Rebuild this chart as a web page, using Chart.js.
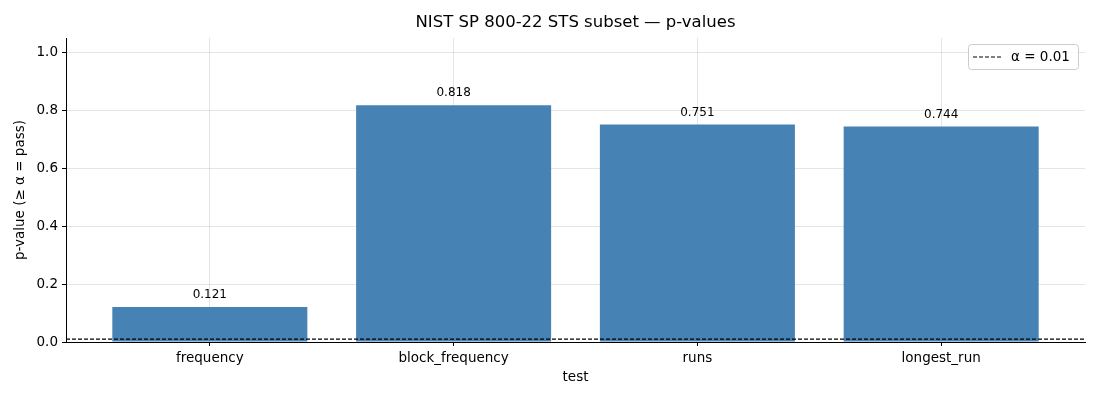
<!DOCTYPE html>
<html>
<head>
<meta charset="utf-8">
<script src="https://cdn.jsdelivr.net/npm/chart.js@4.4.1/dist/chart.umd.min.js"></script>
<style>
  html, body { margin: 0; padding: 0; background: #fff; }
  #wrap { width: 1100px; height: 400px; }
</style>
</head>
<body>
<div id="wrap"><canvas id="stsChart" width="1100" height="400"></canvas></div>
<script>
var tests = ['frequency', 'block_frequency', 'runs', 'longest_run'];
var pValues = [0.121, 0.818, 0.751, 0.744];
var alpha = 0.01;
var yTicks = [0, 0.2, 0.4, 0.6, 0.8, 1.0];
var xMin = -0.59, xMax = 3.59, yMax = 1.05;

var FONT = 'DejaVu Sans';
var ctx = document.getElementById('stsChart').getContext('2d');

var barData = pValues.map(function (v, i) { return { x: i, y: v }; });

// bits matplotlib draws that chart.js doesn't: title, value labels, boxed legend
var extras = {
    id: 'extras',
    afterDatasetsDraw: function (chart) {
        var c = chart.ctx, xs = chart.scales.x, ys = chart.scales.y;
        c.save();
        c.fillStyle = '#000';
        c.textAlign = 'center';
        c.textBaseline = 'bottom';
        c.font = '12px ' + FONT;
        pValues.forEach(function (v, i) {
            c.fillText(v.toFixed(3), xs.getPixelForValue(i), ys.getPixelForValue(v) - 6);
        });
        c.restore();
    },
    afterDraw: function (chart) {
        var c = chart.ctx, area = chart.chartArea;
        c.save();
        c.fillStyle = '#000';
        c.textAlign = 'center';
        c.textBaseline = 'middle';
        c.font = '16.5px ' + FONT;
        c.fillText('NIST SP 800-22 STS subset \u2014 p-values', (area.left + area.right) / 2, 23);

        // legend box
        var bx = 968, by = 44, bw = 110, bh = 25;
        c.fillStyle = 'rgba(255,255,255,0.85)';
        c.strokeStyle = '#cccccc';
        c.lineWidth = 1;
        c.beginPath();
        c.roundRect(bx + 0.5, by + 0.5, bw, bh, 3);
        c.fill();
        c.stroke();
        c.strokeStyle = '#000';
        c.setLineDash([4, 2]);
        c.beginPath();
        c.moveTo(bx + 5, by + 13);
        c.lineTo(bx + 33, by + 13);
        c.stroke();
        c.setLineDash([]);
        c.fillStyle = '#000';
        c.textAlign = 'left';
        c.font = '13.5px ' + FONT;
        c.fillText('\u03b1 = 0.01', bx + 43, by + 13);
        c.restore();
    }
};

new Chart(ctx, {
    type: 'bar',
    data: {
        datasets: [{
            type: 'line',
            label: '\u03b1 = 0.01',
            data: [{ x: xMin, y: alpha }, { x: xMax, y: alpha }],
            borderColor: '#000',
            borderWidth: 1.2,
            borderDash: [4, 2],
            pointRadius: 0,
            fill: false,
            order: 0
        }, {
            label: 'p-value',
            data: barData,
            backgroundColor: '#4682b4',
            borderWidth: 0,
            barPercentage: 0.8,
            categoryPercentage: 1.0,
            order: 1
        }]
    },
    options: {
        responsive: false,
        animation: false,
        devicePixelRatio: 1,
        layout: { padding: { top: 38, right: 15, left: 0, bottom: 0 } },
        plugins: {
            legend: { display: false },
            title: { display: false },
            tooltip: { enabled: false }
        },
        scales: {
            x: {
                type: 'linear',
                min: xMin,
                max: xMax,
                offset: false,
                z: 1,
                afterBuildTicks: function (scale) {
                    scale.ticks = tests.map(function (t, i) { return { value: i }; });
                },
                afterFit: function (scale) { scale.height = 58; },
                ticks: {
                    color: '#000',
                    font: { family: FONT, size: 13.5 },
                    padding: 4,
                    maxRotation: 0,
                    callback: function (v) { return tests[v]; }
                },
                grid: { offset: false, color: 'rgba(0,0,0,0.1)', tickColor: '#000', tickLength: 4 },
                border: { display: true, color: '#000', width: 1 },
                title: {
                    display: true,
                    text: 'test',
                    color: '#000',
                    font: { family: FONT, size: 13.5 },
                    padding: { top: 0, bottom: 14 }
                }
            },
            y: {
                min: 0,
                max: yMax,
                z: 1,
                afterBuildTicks: function (scale) {
                    scale.ticks = yTicks.map(function (v) { return { value: v }; });
                },
                afterFit: function (scale) { scale.width = 66; },
                ticks: {
                    color: '#000',
                    font: { family: FONT, size: 13.5 },
                    padding: 4,
                    callback: function (v) { return v.toFixed(1); }
                },
                grid: { color: 'rgba(0,0,0,0.1)', tickColor: '#000', tickLength: 4 },
                border: { display: true, color: '#000', width: 1 },
                title: {
                    display: true,
                    text: 'p-value (\u2265 \u03b1 = pass)',
                    color: '#000',
                    font: { family: FONT, size: 13.5 },
                    padding: { top: 12, bottom: 0 }
                }
            }
        }
    },
    plugins: [extras]
});
</script>
</body>
</html>
